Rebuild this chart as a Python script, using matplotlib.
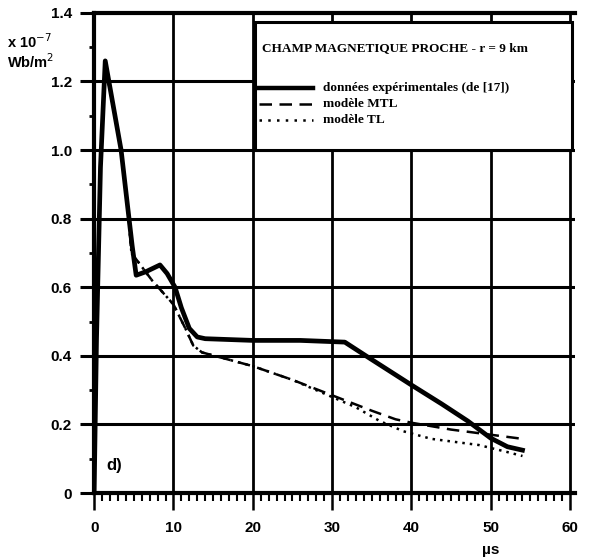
import matplotlib
matplotlib.use('Agg')
import matplotlib.pyplot as plt
from matplotlib.patches import Rectangle
from matplotlib.ticker import MultipleLocator

# ─── Data ────────────────────────────────────────────────────────────────────

exp_t = [0, 0.3, 0.8, 1.4, 3.4, 4.3, 4.8, 5.3, 6.5, 8.3, 9.2, 10.2, 11.0,
         12.0, 13.0, 14.0, 20.0, 26.0, 31.6, 34.6, 40.0, 43.8, 47.1, 50.0,
         52.1, 54.0]
exp_b = [0, 0.45, 0.95, 1.26, 1.00, 0.82, 0.72, 0.635, 0.645, 0.665, 0.64,
         0.60, 0.54, 0.48, 0.455, 0.45, 0.445, 0.445, 0.44, 0.395, 0.315,
         0.26, 0.21, 0.16, 0.135, 0.125]

mtl_t = [0, 0.3, 0.8, 1.4, 3.4, 4.3, 4.7, 7.3, 10.0, 11.5, 12.5, 13.6, 16.0,
         20.0, 25.0, 30.0, 35.0, 38.0, 40.0, 45.0, 50.0, 54.0]
mtl_b = [0, 0.45, 0.95, 1.25, 1.00, 0.82, 0.70, 0.62, 0.55, 0.48, 0.43,
         0.41, 0.395, 0.37, 0.33, 0.285, 0.24, 0.215, 0.205, 0.185, 0.17,
         0.158]

tl_t = [0, 0.3, 0.8, 1.4, 3.4, 4.3, 4.7, 7.3, 10.0, 11.5, 12.5, 13.6, 16.0,
        20.0, 25.0, 30.0, 33.0, 36.0, 39.0, 42.5, 48.5, 52.0, 54.0]
tl_b = [0, 0.45, 0.95, 1.25, 1.00, 0.82, 0.70, 0.62, 0.55, 0.48, 0.43,
        0.41, 0.395, 0.37, 0.33, 0.28, 0.25, 0.21, 0.18, 0.158, 0.14, 0.12,
        0.108]

x_ticks = [0, 10, 20, 30, 40, 50, 60]
y_ticks = [0, 0.2, 0.4, 0.6, 0.8, 1.0, 1.2, 1.4]
y_labels = ['0', '0.2', '0.4', '0.6', '0.8', '1.0', '1.2', '1.4']

TITLE = 'CHAMP MAGNETIQUE PROCHE - r = 9 km'
LABELS = ['données expérimentales (de [17])', 'modèle MTL', 'modèle TL']

# ─── Plot ────────────────────────────────────────────────────────────────────

LBL = ['Liberation Sans', 'DejaVu Sans']
SER = ['Liberation Serif', 'DejaVu Serif']

fig = plt.figure(figsize=(5.92, 5.59), dpi=100)
ax = fig.add_axes([0.159, 0.118, 0.812, 0.859])
ax.set_xlim(0, 60.6)
ax.set_ylim(0, 1.4)

# thick black grid
for yv in y_ticks[1:-1]:
    ax.axhline(yv, color='black', lw=2.2, zorder=1)
for xv in x_ticks[1:]:
    ax.axvline(xv, color='black', lw=2.0, zorder=1)

ax.plot(exp_t, exp_b, color='black', lw=3.4, solid_joinstyle='round', zorder=4)
ax.plot(mtl_t, mtl_b, color='black', lw=1.8, dashes=(5, 3), zorder=4)
ax.plot(tl_t, tl_b, color='black', lw=1.8, dashes=(1, 2), zorder=4)

# spines / ticks
ax.spines['right'].set_visible(False)
for s in ['left', 'bottom', 'top']:
    ax.spines[s].set_linewidth(3)

ax.set_xticks(x_ticks)
ax.set_xticklabels([str(v) for v in x_ticks], fontfamily=LBL,
                   fontweight='bold', fontsize=11)
ax.set_yticks(y_ticks)
ax.set_yticklabels(y_labels, fontfamily=LBL, fontweight='bold', fontsize=11)
ax.xaxis.set_minor_locator(MultipleLocator(1))
ax.yaxis.set_minor_locator(MultipleLocator(0.1))
ax.tick_params(axis='x', which='major', direction='out', length=12,
               width=1.8, pad=8)
ax.tick_params(axis='x', which='minor', direction='out', length=5.5,
               width=1.5)
ax.tick_params(axis='y', which='major', direction='out', length=10,
               width=2.2, pad=6)
ax.tick_params(axis='y', which='minor', direction='out', length=3.5,
               width=2)

# legend box (drawn by hand to match the original layout)
box = Rectangle((20.3, 1.0), 40.0, 0.372, facecolor='white',
                edgecolor='black', lw=2.2, zorder=5)
ax.add_patch(box)
ax.text(21.2, 1.298, TITLE, fontfamily=SER, fontweight='bold', fontsize=9.5,
        va='center', ha='left', zorder=6)
styles = [dict(lw=3.2), dict(lw=1.8, dashes=(5, 3)), dict(lw=1.8, dashes=(1, 2.5))]
rows = [1.18, 1.135, 1.088]
for lab, st, yr in zip(LABELS, styles, rows):
    ax.plot([20.8, 27.6], [yr, yr], color='black', zorder=6, **st)
    ax.text(28.9, yr, lab, fontfamily=SER, fontweight='bold', fontsize=9.5,
            va='center', ha='left', zorder=6)

ax.text(1.6, 0.08, 'd)', fontfamily=LBL, fontweight='bold', fontsize=12,
        va='center', ha='left')
ax.text(50, -0.165, 'µs', fontfamily=LBL, fontweight='bold', fontsize=11,
        ha='center', va='center', clip_on=False)

fig.text(0.012, 0.925, 'x 10$^{-7}$', fontfamily=LBL, fontweight='bold',
         fontsize=10.5, ha='left', va='center')
fig.text(0.012, 0.890, 'Wb/m$^2$', fontfamily=LBL, fontweight='bold',
         fontsize=10.5, ha='left', va='center')

plt.savefig('out.png', dpi=100)
